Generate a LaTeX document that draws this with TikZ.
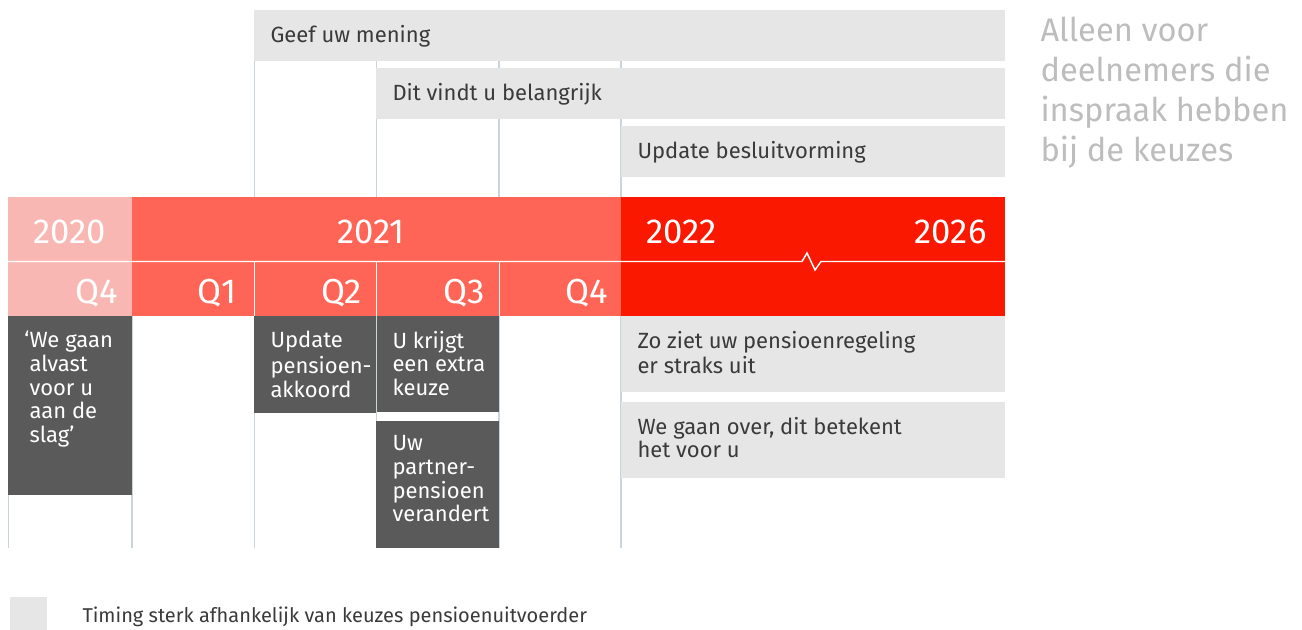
\documentclass[tikz,border=0pt]{standalone}
\usepackage{fontspec}
\setmainfont{Fira Sans}

\definecolor{pinkyear}{HTML}{F8B7B3}
\definecolor{coralyear}{HTML}{FF6557}
\definecolor{redyear}{HTML}{FA1900}
\definecolor{darkbox}{HTML}{5A5A5A}
\definecolor{lightbox}{HTML}{E6E6E6}
\definecolor{guide}{HTML}{C9D5DA}
\definecolor{boxtxt}{HTML}{3A3A3A}
\definecolor{sidetxt}{HTML}{BDBDBD}

\newcommand{\boxfont}{\fontsize{16.5}{17.8}\selectfont}
\newcommand{\yearfont}{\fontsize{26}{30}\selectfont}

\tikzset{every picture/.style={line width=0.75pt}}

\begin{document}
\begin{tikzpicture}[x=0.75pt,y=0.75pt,yscale=-1,xscale=1]
\path[use as bounding box] (0,0) rectangle (1302,630);

%Straight Lines [guides]
\draw [color=guide, line width=1.1pt]   (254.5,10) -- (254.5,548) ;
\draw [color=guide, line width=1.1pt]   (376.5,10) -- (376.5,548) ;
\draw [color=guide, line width=1.1pt]   (499,10) -- (499,548) ;
\draw [color=guide, line width=1.1pt]   (621,10) -- (621,548) ;
\draw [color=guide, line width=1.1pt]   (8.5,316) -- (8.5,548) ;
\draw [color=guide, line width=1.1pt]   (132,316) -- (132,548) ;

%Shape: Rectangle [top boxes]
\fill [color=lightbox]  (254,10) rectangle (1005,61) ;
\fill [color=lightbox]  (376,68) rectangle (1005,119) ;
\fill [color=lightbox]  (621,126) rectangle (1005,177) ;

%Shape: Rectangle [years]
\fill [color=pinkyear]  (8,197) rectangle (132,316) ;
\fill [color=coralyear]  (132,197) rectangle (621,316) ;
\fill [color=redyear]  (621,197) rectangle (1005,316) ;

%Straight Lines [row divider with break]
\draw [color=white, line width=1.1pt]   (8,261.5) -- (802,261.5) -- (807,253) -- (815,270) -- (821,261.5) -- (1005,261.5) ;
\draw [color=white]   (254.5,262) -- (254.5,316) ;
\draw [color=white]   (376.5,262) -- (376.5,316) ;
\draw [color=white]   (499,262) -- (499,316) ;

%Shape: Rectangle [dark boxes]
\fill [color=darkbox]  (8,316) rectangle (132,495) ;
\fill [color=darkbox]  (254,316) rectangle (375.8,413) ;
\fill [color=darkbox]  (377.2,316) rectangle (499,412) ;
\fill [color=darkbox]  (376,421) rectangle (499,548) ;

%Shape: Rectangle [light boxes]
\fill [color=lightbox]  (621,316) rectangle (1005,392) ;
\fill [color=lightbox]  (621,402) rectangle (1005,478) ;

%Shape: Square [legend]
\fill [color=lightbox]  (10,597) rectangle (47,630) ;

% Text Node
\draw (270,36) node (mening) [anchor=west][inner sep=0pt][color=boxtxt, font=\boxfont] {Geef uw mening};
% Text Node
\draw (392,94) node (belang) [anchor=west][inner sep=0pt][color=boxtxt, font=\boxfont] {Dit vindt u belangrijk};
% Text Node
\draw (637,152) node (besluit) [anchor=west][inner sep=0pt][color=boxtxt, font=\boxfont] {Update besluitvorming};

% Text Node
\draw (70,244) node (y2020) [anchor=base][inner sep=0pt][color=white, font=\yearfont] {2020};
% Text Node
\draw (371,244) node (y2021) [anchor=base][inner sep=0pt][color=white, font=\yearfont] {2021};
% Text Node
\draw (646,244) node (y2022) [anchor=base west][inner sep=0pt][color=white, font=\yearfont] {2022};
% Text Node
\draw (987,244) node (y2026) [anchor=base east][inner sep=0pt][color=white, font=\yearfont] {2026};

% Text Node
\draw (118,304) node (q4a) [anchor=base east][inner sep=0pt][color=white, font=\yearfont] {Q4};
% Text Node
\draw (237,304) node (q1) [anchor=base east][inner sep=0pt][color=white, font=\yearfont] {Q1};
% Text Node
\draw (362,304) node (q2) [anchor=base east][inner sep=0pt][color=white, font=\yearfont] {Q2};
% Text Node
\draw (485,304) node (q3) [anchor=base east][inner sep=0pt][color=white, font=\yearfont] {Q3};
% Text Node
\draw (608,304) node (q4b) [anchor=base east][inner sep=0pt][color=white, font=\yearfont] {Q4};

% Text Node
\draw (29,330.6) node (slag) [anchor=north west][inner sep=0pt][color=white, font=\boxfont, align=left] {\strut\llap{‘}We gaan\\alvast\\voor u\\aan de\\slag’};
% Text Node
\draw (270,330.6) node (akkoord) [anchor=north west][inner sep=0pt][color=white, font=\boxfont, align=left] {\strut Update\\pensioen-\\akkoord};
% Text Node
\draw (392,330.6) node (keuze) [anchor=north west][inner sep=0pt][color=white, font=\boxfont, align=left] {\strut U krijgt\\een extra\\keuze};
% Text Node
\draw (392,433.6) node (partner) [anchor=north west][inner sep=0pt][color=white, font=\boxfont, align=left] {\strut Uw\\partner-\\pensioen\\verandert};

% Text Node
\draw (637,330.6) node (regeling) [anchor=north west][inner sep=0pt][color=boxtxt, font=\boxfont, align=left] {\strut Zo ziet uw pensioenregeling\\er straks uit};
% Text Node
\draw (637,416.6) node (overgang) [anchor=north west][inner sep=0pt][color=boxtxt, font=\boxfont, align=left] {\strut We gaan over, dit betekent\\het voor u};

% Text Node
\draw (1040,13) node (inspraak) [anchor=north west][inner sep=0pt][color=sidetxt, font=\fontsize{24.5}{30}\selectfont, align=left] {\strut Alleen voor\\deelnemers die\\inspraak hebben\\bij de keuzes};

% Text Node
\draw (82,617) node (timing) [anchor=west][inner sep=0pt][color=boxtxt, font=\fontsize{15}{17}\selectfont] {Timing sterk afhankelijk van keuzes pensioenuitvoerder};

\end{tikzpicture}
\end{document}
